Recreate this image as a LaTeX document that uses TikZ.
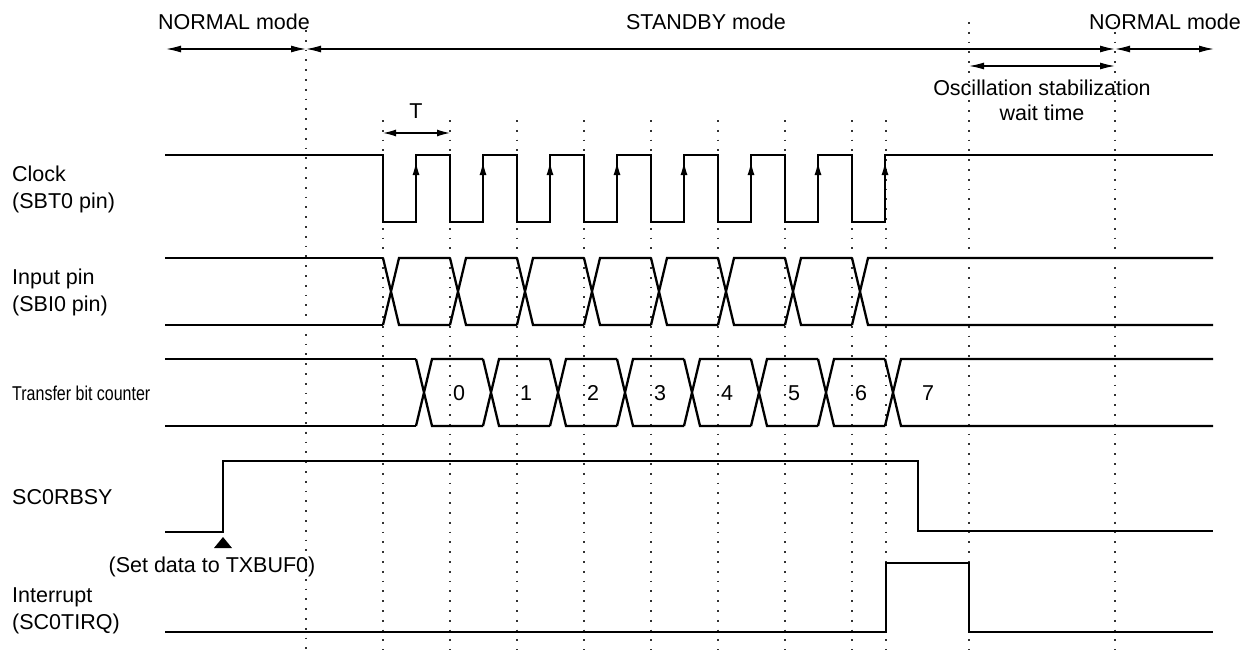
\documentclass[tikz,border=0pt]{standalone}
\usepackage{fontspec}
\setmainfont{Liberation Sans}
\usetikzlibrary{arrows.meta, positioning}

\begin{document}
\begin{tikzpicture}[x=1pt, y=-1pt]
  \tikzset{
    sig/.style={line width=2.3pt},
    tick/.style={line width=1.2pt, black!80, dash pattern=on 1.8pt off 8pt},
    span/.style={line width=1.3pt, {Latex[length=15pt,width=7pt]}-{Latex[length=15pt,width=7pt]}},
    edge/.style={line width=1.3pt, -{Latex[length=13pt,width=7pt]}},
    lbl/.style={anchor=west, align=left, inner sep=0pt, font=\fontsize{21.5}{27}\selectfont},
    txt/.style={inner sep=0pt, align=center, font=\fontsize{21.5}{25}\selectfont}
  }
  \useasboundingbox (0,0) rectangle (1253,656);

  % dotted time marks
  \draw[tick] (306,30) -- (306,650);
  \foreach \x in {383,450,...,852,886}
    \draw[tick] (\x,120) -- (\x,650);
  \draw[tick] (969,22) -- (969,650);
  \draw[tick] (1115,22) -- (1115,650);

  % modes
  \coordinate (n1) at (166,49);
  \coordinate (s0) at (306,49);
  \coordinate (s1) at (1115,49);
  \coordinate (n2) at (1214,49);
  \draw[span] (n1) -- (s0);
  \draw[span] (s0) -- (s1);
  \draw[span] (s1) -- (n2);
  \node[txt] (nrm1) at (234,22) {NORMAL mode};
  \node[txt] (stby) at (706,22) {STANDBY mode};
  \node[txt] (nrm2) at (1165,22) {NORMAL mode};

  \coordinate (w0) at (969,66);
  \coordinate (w1) at (1115,66);
  \draw[span] (w0) -- (w1);
  \node[txt] (wait) at (1042,100) {Oscillation stabilization\\wait time};

  \coordinate (t0) at (383,133);
  \coordinate (t1) at (450,133);
  \draw[span, {Latex[length=13pt,width=7pt]}-{Latex[length=13pt,width=7pt]}] (t0) -- (t1);
  \node[txt] (per) at (416,111) {T};

  % signal names
  \node[lbl] (clk) at (12,189) {Clock\\(SBT0 pin)};
  \node[lbl] (inp) at (12,292) {Input pin\\(SBI0 pin)};
  \node[lbl, font=\fontsize{20}{24}\selectfont] (cnt) at (12,393) {\scalebox{0.8}[1]{Transfer bit counter}};
  \node[lbl] (rbsy) at (12,497) {SC0RBSY};
  \node[lbl] (irq) at (12,611) {Interrupt\\(SC0TIRQ)};

  % clock
  \draw[sig] (165,155)
    \foreach \x in {383,450,...,852} { -- (\x,155) -- (\x,222) -- (\x+33,222) -- (\x+33,155) }
    -- (1213,155);
  \foreach \x in {416,483,...,885}
    \draw[edge] (\x,184) -- (\x,162);

  % input pin
  \draw[sig] (165,258) -- (383,258) (165,325) -- (383,325);
  \foreach \x in {383,450,...,785}
    \draw[sig] (\x,258) -- (\x+16,325) -- (\x+67,325) (\x,325) -- (\x+16,258) -- (\x+67,258);
  \draw[sig] (852,258) -- (868,325) -- (1213,325) (852,325) -- (868,258) -- (1213,258);

  % transfer bit counter
  \draw[sig] (165,359) -- (416,359) (165,426) -- (416,426);
  \foreach \x [count=\i from 0] in {416,483,...,885} {
    \node[txt] (b\i) at (\x+43,393) {\i};
  }
  \foreach \x in {416,483,...,818}
    \draw[sig] (\x,359) -- (\x+16,426) -- (\x+67,426) (\x,426) -- (\x+16,359) -- (\x+67,359);
  \draw[sig] (885,359) -- (901,426) -- (1213,426) (885,426) -- (901,359) -- (1213,359);

  % SC0RBSY
  \draw[sig] (165,532) -- (223,532) -- (223,461) -- (918,461) -- (918,531) -- (1213,531);
  \fill (223,537) -- (232,548) -- (214,548) -- cycle;
  \node[txt] (set) at (212,567) {(Set data to TXBUF0)};

  % interrupt
  \draw[sig] (165,632) -- (886,632) -- (886,563) -- (969,563) -- (969,632) -- (1213,632);
\end{tikzpicture}
\end{document}
